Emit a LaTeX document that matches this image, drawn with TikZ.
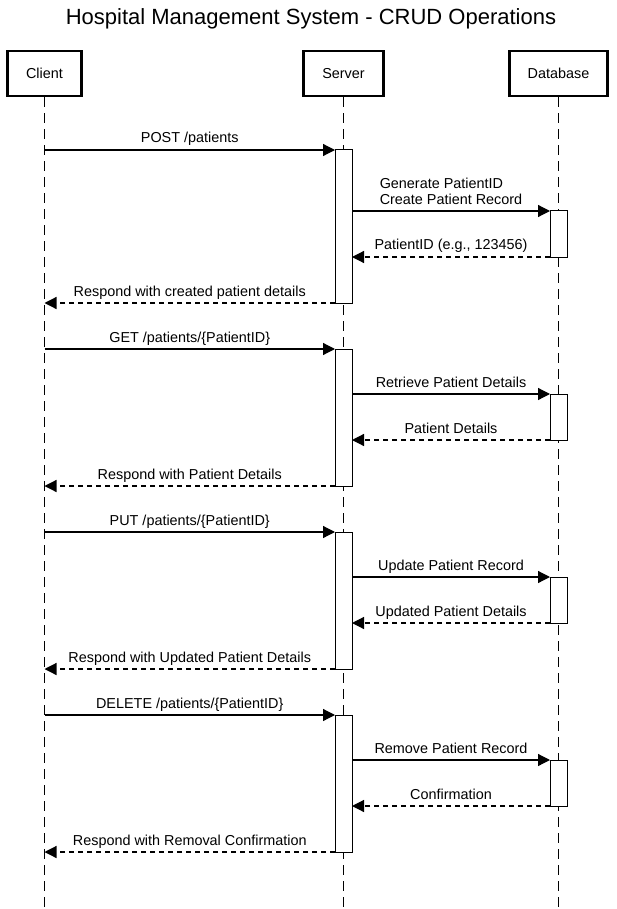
\documentclass[tikz,border=0pt]{standalone}
\usepackage{fontspec}
\setmainfont{Liberation Sans}
\usetikzlibrary{arrows.meta,calc}
\begin{document}
\begin{tikzpicture}[x=1pt,y=-1pt,
  actor/.style={draw, line width=2.2pt, minimum height=45pt, inner sep=0pt, font=\fontsize{14.4}{16}\selectfont},
  life/.style={line width=1.3pt, dash pattern=on 10pt off 6pt},
  act/.style={draw, line width=1pt, fill=white, minimum width=17pt, inner sep=0pt, outer sep=0pt},
  call/.style={line width=1.2pt, -{Triangle[length=12pt,width=12pt]}},
  ret/.style={call, dash pattern=on 5pt off 4pt},
  lbl/.style={anchor=base, inner sep=0pt, font=\fontsize{14.4}{16}\selectfont, yshift=7pt}
]
\useasboundingbox (0,0) rectangle (616,909);
\node[font=\fontsize{22}{26}\selectfont, anchor=base] (title) at (311,25) {Hospital Management System - CRUD Operations};

\node[actor, minimum width=74pt] (cl) at (44.5,73.5) {Client};
\node[actor, minimum width=80pt] (sv) at (343.5,73.5) {Server};
\node[actor, minimum width=98pt] (db) at (558.5,73.5) {Database};

\coordinate (clend) at (44.5,909);
\coordinate (svend) at (343.5,909);
\coordinate (dbend) at (558.5,909);
\draw[life] (cl) -- (clend);
\draw[life] (sv) -- (svend);
\draw[life] (db) -- (dbend);

% activations: server (call..respond), database (db call..return)
\node[act, minimum height=153pt] (s1) at (343.5,226.5) {};
\node[act, minimum height=46pt] (d1) at (558.5,234) {};
\node[act, minimum height=137pt] (s2) at (343.5,417.5) {};
\node[act, minimum height=46pt] (d2) at (558.5,417) {};
\node[act, minimum height=137pt] (s3) at (343.5,600.5) {};
\node[act, minimum height=46pt] (d3) at (558.5,600) {};
\node[act, minimum height=137pt] (s4) at (343.5,783.5) {};
\node[act, minimum height=46pt] (d4) at (558.5,783) {};

% block 1
\draw[call] (cl |- s1.north) -- node[lbl]{POST /patients} (s1.north west);
\draw[call] (s1.east |- d1.north) -- node[lbl, yshift=-1pt]{\begin{tabular}[b]{@{}l@{}}Generate PatientID\\Create Patient Record\end{tabular}} (d1.north west);
\draw[ret] (d1.south west) -- node[lbl, yshift=1pt]{PatientID (e.g., 123456)} (s1.east |- d1.south);
\draw[ret] (s1.south west) -- node[lbl]{Respond with created patient details} (cl |- s1.south);

% block 2
\draw[call] (cl |- s2.north) -- node[lbl]{GET /patients/\{PatientID\}} (s2.north west);
\draw[call] (s2.east |- d2.north) -- node[lbl]{Retrieve Patient Details} (d2.north west);
\draw[ret] (d2.south west) -- node[lbl]{Patient Details} (s2.east |- d2.south);
\draw[ret] (s2.south west) -- node[lbl]{Respond with Patient Details} (cl |- s2.south);

% block 3
\draw[call] (cl |- s3.north) -- node[lbl]{PUT /patients/\{PatientID\}} (s3.north west);
\draw[call] (s3.east |- d3.north) -- node[lbl]{Update Patient Record} (d3.north west);
\draw[ret] (d3.south west) -- node[lbl]{Updated Patient Details} (s3.east |- d3.south);
\draw[ret] (s3.south west) -- node[lbl]{Respond with Updated Patient Details} (cl |- s3.south);

% block 4
\draw[call] (cl |- s4.north) -- node[lbl]{DELETE /patients/\{PatientID\}} (s4.north west);
\draw[call] (s4.east |- d4.north) -- node[lbl]{Remove Patient Record} (d4.north west);
\draw[ret] (d4.south west) -- node[lbl]{Confirmation} (s4.east |- d4.south);
\draw[ret] (s4.south west) -- node[lbl]{Respond with Removal Confirmation} (cl |- s4.south);
\end{tikzpicture}
\end{document}
